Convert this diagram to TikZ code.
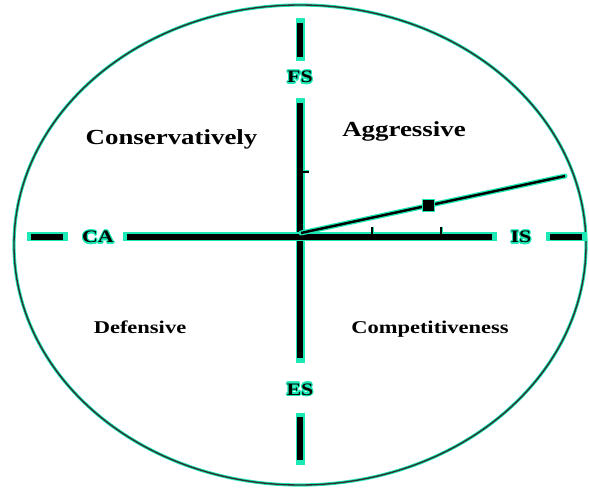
\documentclass[tikz,border=0pt]{standalone}
\usepackage{fontspec}
\usepackage{contour}
\newfontfamily\lblfont[FakeStretch=1.25]{Liberation Serif}
\definecolor{glow}{HTML}{1DE9B6}
\definecolor{rim}{HTML}{303030}
\contourlength{1.1pt}
\contournumber{16}

\begin{document}
\begin{tikzpicture}[x=1pt,y=-1pt,
  axis/.style={line width=6pt,draw=black,preaction={draw=glow,line width=9pt,line cap=rect}},
  dashaxis/.style={axis},
  tick/.style={line width=1.3pt,draw=black,preaction={draw=glow,line width=3pt}},
  trend/.style={line width=2.4pt,draw=black,preaction={draw=glow,line width=5pt,line cap=round}},
  quad/.style={font=\lblfont\bfseries\fontsize{21.5}{24}\selectfont,anchor=base,inner sep=0pt},
  quadsm/.style={font=\lblfont\bfseries\fontsize{18}{20}\selectfont,anchor=base,inner sep=0pt},
  axlbl/.style={font=\lblfont\bfseries\fontsize{17.5}{20}\selectfont,anchor=base,inner sep=0pt}]
\useasboundingbox (0,0) rectangle (589,489);
\draw[glow,line width=3.2pt] (300,245) ellipse [x radius=286,y radius=240];
\draw[rim,line width=1.4pt] (300,245) ellipse [x radius=286,y radius=240];
\coordinate (o) at (300,237);
\coordinate (top) at (300,103);
\coordinate (bot) at (300,358);
\coordinate (lft) at (127,237);
\coordinate (rgt) at (492,237);
\coordinate (n1) at (300,23);
\coordinate (n2) at (300,57);
\coordinate (s1) at (300,417);
\coordinate (s2) at (300,460);
\coordinate (w1) at (31,237);
\coordinate (w2) at (63,237);
\coordinate (e1) at (550,237);
\coordinate (e2) at (582,237);
\coordinate (start) at (301,233);
\coordinate (tip) at (565,176);
\node[axlbl] (fs) at (300,83) {\contour{glow}{FS}};
\node[axlbl] (es) at (300,395) {\contour{glow}{ES}};
\node[axlbl] (ca) at (98,243) {\contour{glow}{CA}};
\node[axlbl] (is) at (521,243) {\contour{glow}{IS}};
\draw[axis] (top) -- (bot);
\draw[axis] (lft) -- (rgt);
\draw[dashaxis] (n1) -- (n2);
\draw[dashaxis] (s1) -- (s2);
\draw[dashaxis] (w1) -- (w2);
\draw[dashaxis] (e1) -- (e2);
\draw[tick] (303,172) -- (309,172);
\draw[tick] (372,234) -- (372,227);
\draw[tick] (441,234) -- (441,227);
\draw[trend] (start) -- (tip);
\node[fill=black,draw=glow,line width=1pt,minimum size=12pt,inner sep=0pt] (mk) at (428,205.5) {};
\node[quad] (cons) at (171.5,145) {Conservatively};
\node[quad] (aggr) at (404,137) {Aggressive};
\node[quadsm] (defn) at (140,333) {Defensive};
\node[quadsm] (comp) at (430,333) {Competitiveness};
\end{tikzpicture}
\end{document}
